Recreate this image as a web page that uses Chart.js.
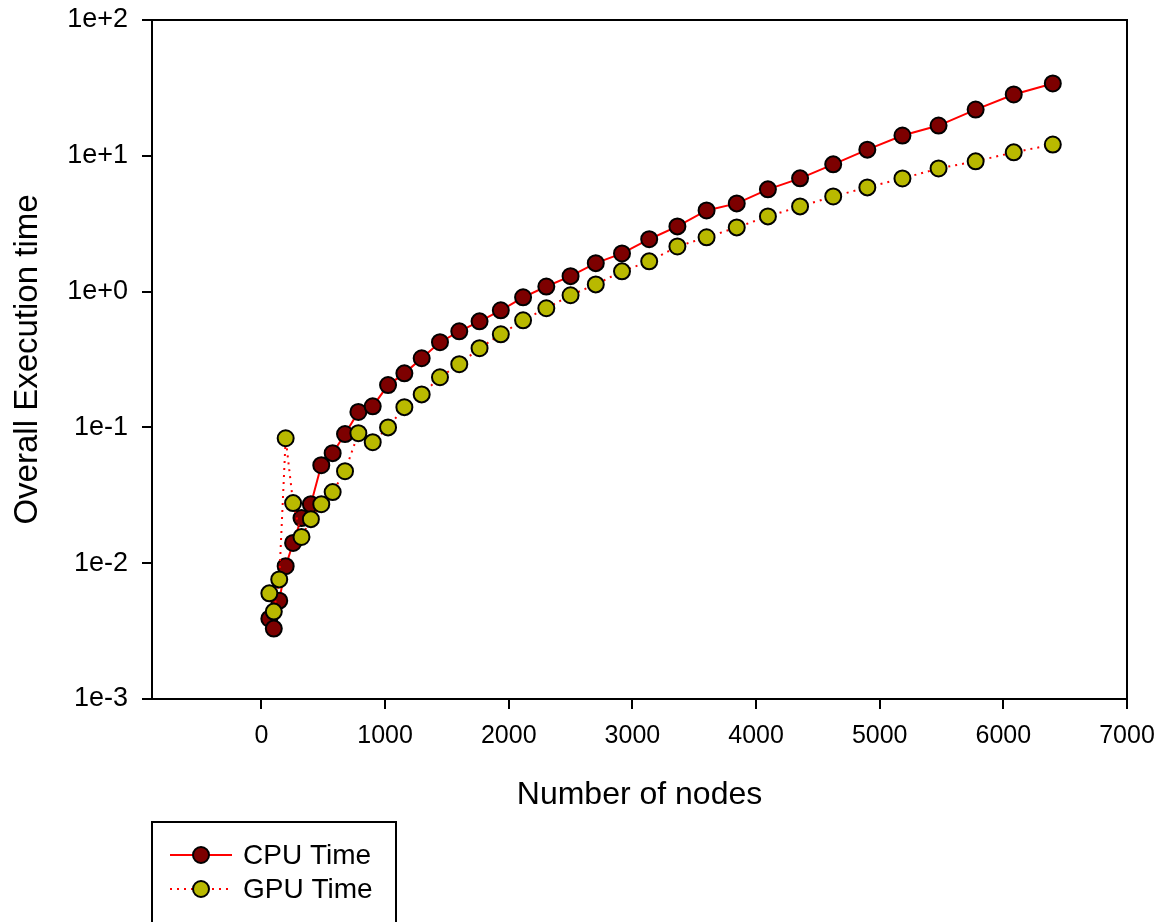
<!DOCTYPE html>
<html>
<head>
<meta charset="utf-8">
<title>Overall Execution time</title>
<script src="https://cdn.jsdelivr.net/npm/chart.js@4.4.1/dist/chart.umd.min.js"></script>
<style>
    html, body { margin: 0; padding: 0; background: #ffffff; }
    #wrap { width: 1159px; height: 922px; position: relative; }
</style>
</head>
<body>
<div id="wrap"><canvas id="timeChart"></canvas></div>
<script>
// number of nodes (n x n grids)
const nodes = [64, 100, 144, 196, 256, 324, 400, 484, 576, 676, 784, 900, 1024, 1156, 1296, 1444,
    1600, 1764, 1936, 2116, 2304, 2500, 2704, 2916, 3136, 3364, 3600, 3844, 4096, 4356, 4624,
    4900, 5184, 5476, 5776, 6084, 6400];

const cpuTime = [0.0039, 0.0033, 0.0053, 0.0095, 0.0141, 0.0215, 0.0272, 0.0527, 0.0646, 0.0893,
    0.130, 0.143, 0.205, 0.250, 0.323, 0.424, 0.510, 0.604, 0.728, 0.908, 1.09, 1.30, 1.62, 1.91,
    2.43, 3.02, 3.96, 4.46, 5.66, 6.82, 8.65, 11.1, 14.1, 16.7, 21.9, 28.3, 34.1];

const gpuTime = [0.0060, 0.0044, 0.0076, 0.0832, 0.0277, 0.0156, 0.0211, 0.0272, 0.0334, 0.0476,
    0.0906, 0.0778, 0.100, 0.141, 0.175, 0.234, 0.292, 0.383, 0.485, 0.615, 0.754, 0.940, 1.13,
    1.41, 1.67, 2.15, 2.51, 2.97, 3.58, 4.24, 5.02, 5.85, 6.81, 8.07, 9.10, 10.6, 12.1];

const xTicks = [0, 1000, 2000, 3000, 4000, 5000, 6000, 7000];
const yTicks = [0.001, 0.01, 0.1, 1, 10, 100];

const FONT = "'Liberation Sans', Arial, sans-serif";

function expLabel(v) {
    const e = Math.round(Math.log10(v));
    return '1e' + (e >= 0 ? '+' : '-') + Math.abs(e);
}

// keep the plot box exactly where layout.padding puts it
function noScalePadding(s) {
    s.paddingLeft = 0;
    s.paddingRight = 0;
    s.paddingTop = 0;
    s.paddingBottom = 0;
}

// top + right edges of the plot frame
const framePlugin = {
    id: 'frame',
    afterDraw(chart) {
        const { ctx, chartArea: a } = chart;
        ctx.save();
        ctx.strokeStyle = '#000';
        ctx.lineWidth = 2;
        ctx.beginPath();
        ctx.moveTo(a.left, a.top);
        ctx.lineTo(a.right, a.top);
        ctx.lineTo(a.right, a.bottom);
        ctx.stroke();
        ctx.restore();
    }
};

// boxed legend under the plot, like the original
const boxLegend = {
    id: 'boxLegend',
    afterDraw(chart) {
        const ctx = chart.ctx;
        ctx.save();
        ctx.strokeStyle = '#000';
        ctx.lineWidth = 2;
        ctx.strokeRect(152, 822, 244, 140);
        chart.data.datasets.forEach((ds, i) => {
            const y = 855 + i * 34;
            ctx.beginPath();
            ctx.strokeStyle = ds.borderColor;
            ctx.lineWidth = ds.borderWidth;
            ctx.setLineDash(ds.borderDash || []);
            ctx.moveTo(170, y);
            ctx.lineTo(232, y);
            ctx.stroke();
            ctx.setLineDash([]);
            ctx.beginPath();
            ctx.arc(201, y, ds.pointRadius, 0, Math.PI * 2);
            ctx.fillStyle = ds.pointBackgroundColor;
            ctx.fill();
            ctx.lineWidth = ds.pointBorderWidth;
            ctx.strokeStyle = ds.pointBorderColor;
            ctx.stroke();
            ctx.fillStyle = '#000';
            ctx.font = '28px ' + FONT;
            ctx.textBaseline = 'middle';
            ctx.fillText(ds.label, 243, y + 1);
        });
        ctx.restore();
    }
};

const cpuPoints = nodes.map((n, i) => ({ x: n, y: cpuTime[i] }));
const gpuPoints = nodes.map((n, i) => ({ x: n, y: gpuTime[i] }));

new Chart(document.getElementById('timeChart'), {
    type: 'line',
    data: {
        datasets: [{
            label: 'CPU Time',
            data: cpuPoints,
            borderColor: '#ff0000',
            borderWidth: 2,
            pointRadius: 8,
            pointBackgroundColor: '#7d0000',
            pointBorderColor: '#000000',
            pointBorderWidth: 2,
            order: 1
        }, {
            label: 'GPU Time',
            data: gpuPoints,
            borderColor: '#ff0000',
            borderWidth: 2,
            borderDash: [2, 5],
            pointRadius: 8,
            pointBackgroundColor: '#b9b900',
            pointBorderColor: '#000000',
            pointBorderWidth: 2,
            order: 0
        }]
    },
    options: {
        responsive: true,
        maintainAspectRatio: false,
        animation: false,
        layout: { padding: { top: 20, right: 32, left: 0, bottom: 0 } },
        scales: {
            x: {
                type: 'linear',
                min: -885,
                max: 7000,
                afterBuildTicks: s => { s.ticks = xTicks.map(v => ({ value: v })); },
                afterFit: s => { s.height = 223; noScalePadding(s); },
                grid: { drawOnChartArea: false, drawTicks: true, tickLength: 10, color: '#000', lineWidth: 2 },
                border: { display: true, color: '#000', width: 2 },
                ticks: {
                    color: '#000',
                    font: { family: FONT, size: 25 },
                    padding: 12,
                    maxRotation: 0,
                    callback: v => String(v)
                },
                title: {
                    display: true,
                    text: 'Number of nodes',
                    color: '#000',
                    font: { family: FONT, size: 32 },
                    padding: { top: 0, bottom: 108 }
                }
            },
            y: {
                type: 'logarithmic',
                min: 0.001,
                max: 100,
                afterBuildTicks: s => { s.ticks = yTicks.map(v => ({ value: v })); },
                afterFit: s => { s.width = 152; noScalePadding(s); },
                grid: { drawOnChartArea: false, drawTicks: true, tickLength: 10, color: '#000', lineWidth: 2 },
                border: { display: true, color: '#000', width: 2 },
                ticks: {
                    color: '#000',
                    font: { family: FONT, size: 27 },
                    padding: 14,
                    callback: v => expLabel(v)
                },
                title: {
                    display: true,
                    text: 'Overall Execution time',
                    color: '#000',
                    font: { family: FONT, size: 33 },
                    padding: { top: 8, bottom: 0 }
                }
            }
        },
        plugins: {
            legend: { display: false },
            tooltip: { enabled: false }
        }
    },
    plugins: [framePlugin, boxLegend]
});
</script>
</body>
</html>
